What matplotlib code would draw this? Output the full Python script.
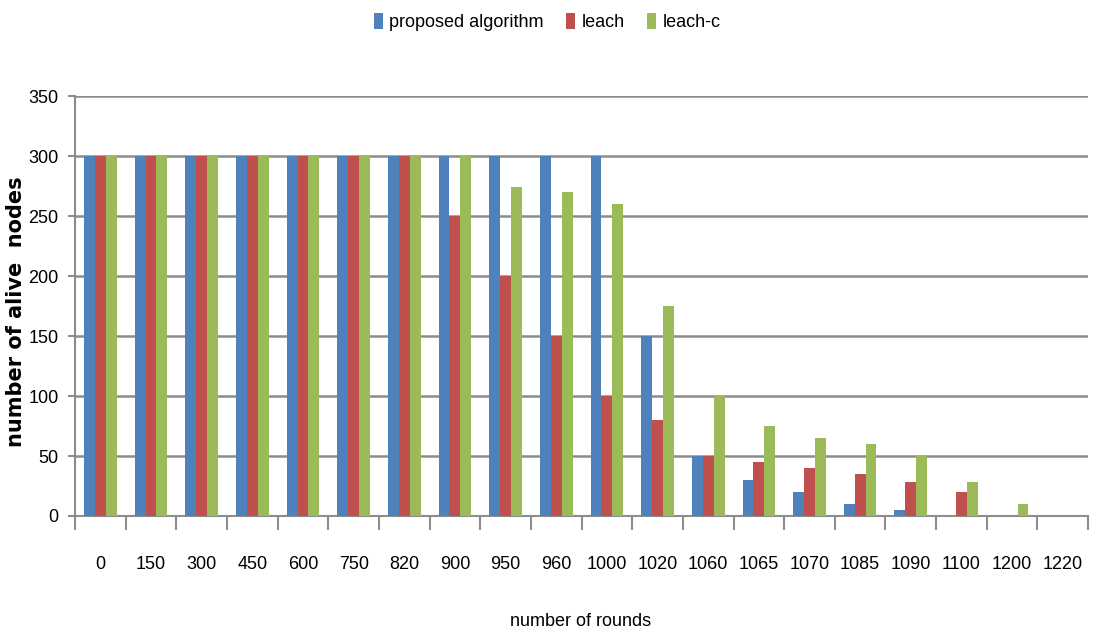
import numpy as np
import matplotlib.pyplot as plt

rounds = ['0', '150', '300', '450', '600', '750', '820', '900', '950', '960',
          '1000', '1020', '1060', '1065', '1070', '1085', '1090', '1100', '1200', '1220']
proposed = [300, 300, 300, 300, 300, 300, 300, 300, 300, 300,
            300, 150, 50, 30, 20, 10, 5, 0, 0, 0]
leach = [300, 300, 300, 300, 300, 300, 300, 250, 200, 150,
         100, 80, 50, 45, 40, 35, 28, 20, 0, 0]
leach_c = [300, 300, 300, 300, 300, 300, 300, 300, 274, 270,
           260, 175, 100, 75, 65, 60, 50, 28, 10, 0]

plt.rcParams['font.family'] = ['Liberation Sans', 'DejaVu Sans']

fig = plt.figure(figsize=(10.94, 6.37), dpi=100)
ax = fig.add_axes([0.0686, 0.19, 0.926, 0.659])

x = np.arange(len(rounds))
w = 0.215
ax.bar(x - w, proposed, w, color='#4F81BD', label='proposed algorithm', zorder=3)
ax.bar(x, leach, w, color='#C0504D', label='leach', zorder=3)
ax.bar(x + w, leach_c, w, color='#9BBB59', label='leach-c', zorder=3)

ax.set_xlim(-0.5, len(rounds) - 0.5)
ax.set_ylim(0, 350)
ax.set_yticks(range(0, 351, 50))
ax.yaxis.grid(True, color='#8c8c8c', linewidth=1.8, zorder=0)
ax.set_axisbelow(True)

ax.set_xticks(x)
ax.set_xticklabels(rounds, fontsize=13)
ax.set_xticks(np.arange(-0.5, len(rounds), 1), minor=True)
ax.tick_params(axis='x', which='major', length=0, pad=29)
ax.tick_params(axis='x', which='minor', length=10, color='#8c8c8c', width=1.5)
ax.tick_params(axis='y', length=5, color='#8c8c8c', width=1.5, labelsize=13, pad=7)

for s in ['top', 'right']:
    ax.spines[s].set_visible(False)
for s in ['left', 'bottom']:
    ax.spines[s].set_color('#8c8c8c')
    ax.spines[s].set_linewidth(1.5)

fig.text(0.531, 0.025, 'number of rounds', fontsize=13, ha='center', va='center')
fig.text(0.015, 0.51, 'number of alive  nodes', fontsize=15, fontweight='bold',
         family=['DejaVu Sans'], rotation=90, ha='center', va='center')

fig.legend(loc='center', bbox_to_anchor=(0.5, 0.965), ncol=3, frameon=False,
           fontsize=13, handlelength=0.5, handleheight=1.0, handletextpad=0.35,
           columnspacing=1.25)

fig.savefig('out.png', dpi=100)
